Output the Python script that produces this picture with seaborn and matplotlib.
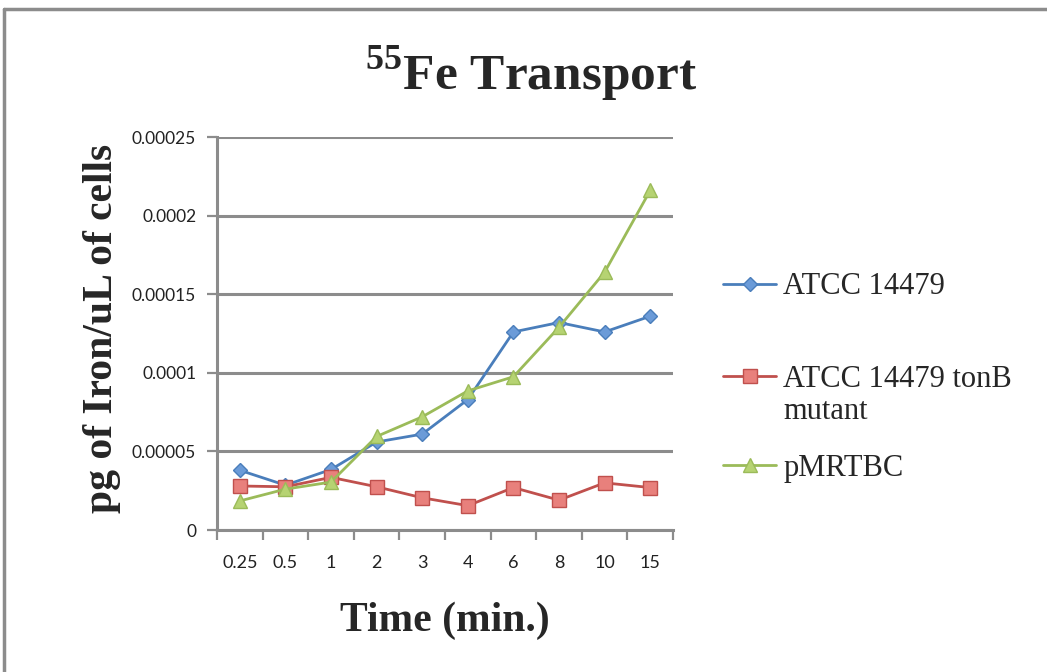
import matplotlib
matplotlib.use("Agg")
import matplotlib.pyplot as plt
from matplotlib.lines import Line2D
import numpy as np
import pandas as pd
import seaborn as sns

# Sampling times (minutes), plotted as evenly spaced categories
times = ["0.25", "0.5", "1", "2", "3", "4", "6", "8", "10", "15"]

# Iron uptake, pg of iron per uL of cells
atcc_wt = [3.8e-5, 2.85e-5, 3.85e-5, 5.6e-5, 6.1e-5, 8.3e-5, 1.26e-4, 1.32e-4, 1.26e-4, 1.36e-4]
atcc_tonb = [2.8e-5, 2.75e-5, 3.35e-5, 2.75e-5, 2.05e-5, 1.55e-5, 2.7e-5, 1.9e-5, 3.0e-5, 2.7e-5]
pmrtbc = [1.85e-5, 2.6e-5, 3.05e-5, 5.95e-5, 7.2e-5, 8.85e-5, 9.75e-5, 1.29e-4, 1.64e-4, 2.16e-4]

series_names = ["ATCC 14479", "ATCC 14479 tonB mutant", "pMRTBC"]
legend_lines = [["ATCC 14479"], ["ATCC 14479 tonB", "mutant"], ["pMRTBC"]]
line_colors = ["#4a7ebb", "#c0504d", "#9bbb59"]
face_colors = ["#6b9bd8", "#e8807c", "#b6d372"]
markers = ["D", "s", "^"]
marker_sizes = [7, 10, 10]

y_ticks = [0, 0.00005, 0.0001, 0.00015, 0.0002, 0.00025]
y_tick_labels = ["0", "0.00005", "0.0001", "0.00015", "0.0002", "0.00025"]

sns.set_theme(style="white")
plt.rcParams["mathtext.fontset"] = "custom"
plt.rcParams["mathtext.rm"] = "Liberation Serif:bold"
plt.rcParams["mathtext.bf"] = "Liberation Serif:bold"

df = pd.DataFrame({
    "time": times * 3,
    "pos": list(range(len(times))) * 3,
    "value": atcc_wt + atcc_tonb + pmrtbc,
    "series": [series_names[0]] * len(times) + [series_names[1]] * len(times) + [series_names[2]] * len(times),
})

fig = plt.figure(figsize=(10.47, 6.72), dpi=100)
ax = fig.add_axes([0.2073, 0.2113, 0.4355, 0.5848])

grid_gray = "#8c8c8c"
tick_font = "Lato"
serif = "Liberation Serif"

for i, name in enumerate(series_names):
    sub = df[df["series"] == name]
    sns.lineplot(
        data=sub, x="pos", y="value", ax=ax, color=line_colors[i],
        marker=markers[i], markersize=marker_sizes[i], markerfacecolor=face_colors[i],
        markeredgecolor=line_colors[i], markeredgewidth=1.0, linewidth=2.0,
        legend=False, zorder=3 + i,
    )

ax.set_xlim(-0.5, len(times) - 0.5)
ax.set_ylim(0, 0.00025)
ax.set_yticks(y_ticks)
ax.set_yticklabels(y_tick_labels, fontsize=12.5, family=tick_font, color="#222222")
ax.yaxis.grid(True, color=grid_gray, linewidth=2.2)
ax.xaxis.grid(False)
ax.set_axisbelow(True)

# Category labels centred between boundary tick marks
ax.set_xticks(np.arange(len(times)))
ax.set_xticklabels(times, fontsize=13, family=tick_font, color="#222222")
ax.tick_params(axis="x", length=0, pad=18)
ax.set_xticks(np.arange(len(times) + 1) - 0.5, minor=True)
ax.tick_params(axis="x", which="minor", length=7, width=1.6, color=grid_gray, direction="out", bottom=True)
ax.tick_params(axis="y", length=7, width=1.6, color=grid_gray, direction="out", left=True, pad=8)

for side in ["top", "right"]:
    ax.spines[side].set_visible(False)
for side in ["left", "bottom"]:
    ax.spines[side].set_color(grid_gray)
    ax.spines[side].set_linewidth(2.2)

ax.set_xlabel("Time (min.)", fontsize=30, family=serif, fontweight="bold")
ax.xaxis.set_label_coords(0.5, -0.183)
ax.set_ylabel("pg of Iron/uL of cells", fontsize=30, family=serif, fontweight="bold")
ax.yaxis.set_label_coords(-0.21, 0.514)

fig.text(0.507, 0.866, r"$^{55}$Fe Transport", fontsize=37, family=serif,
         fontweight="bold", ha="center", va="baseline")

# Legend: one entry per series, stacked to the right of the plot
legend_y = [0.573, 0.435, 0.303]
legends = []
for i in range(len(series_names)):
    handle = Line2D([], [], color=line_colors[i], marker=markers[i], markersize=marker_sizes[i],
                    markerfacecolor=face_colors[i], markeredgecolor=line_colors[i], linewidth=2.0)
    leg = fig.legend([handle], [legend_lines[i][0]], loc="center left",
                     bbox_to_anchor=(0.6905, legend_y[i]), bbox_transform=fig.transFigure,
                     frameon=False, prop={"family": serif, "size": 22},
                     handlelength=1.75, handletextpad=0.22, borderpad=0, borderaxespad=0)
    legends.append(leg)

fig.canvas.draw()
renderer = fig.canvas.get_renderer()
first_text = legends[1].get_texts()[0].get_window_extent(renderer)
x_text = first_text.x0 / fig.bbox.width
fig.text(x_text, 0.388, legend_lines[1][1], fontsize=22, family=serif, ha="left", va="center")

# Outer chart frame (left and top edges)
fig.add_artist(Line2D([0.004, 0.004], [0.0, 0.987], transform=fig.transFigure, color=grid_gray, linewidth=2.5))
fig.add_artist(Line2D([0.004, 1.0], [0.987, 0.987], transform=fig.transFigure, color=grid_gray, linewidth=2.5))

fig.savefig("out.png", dpi=100, facecolor="white")
